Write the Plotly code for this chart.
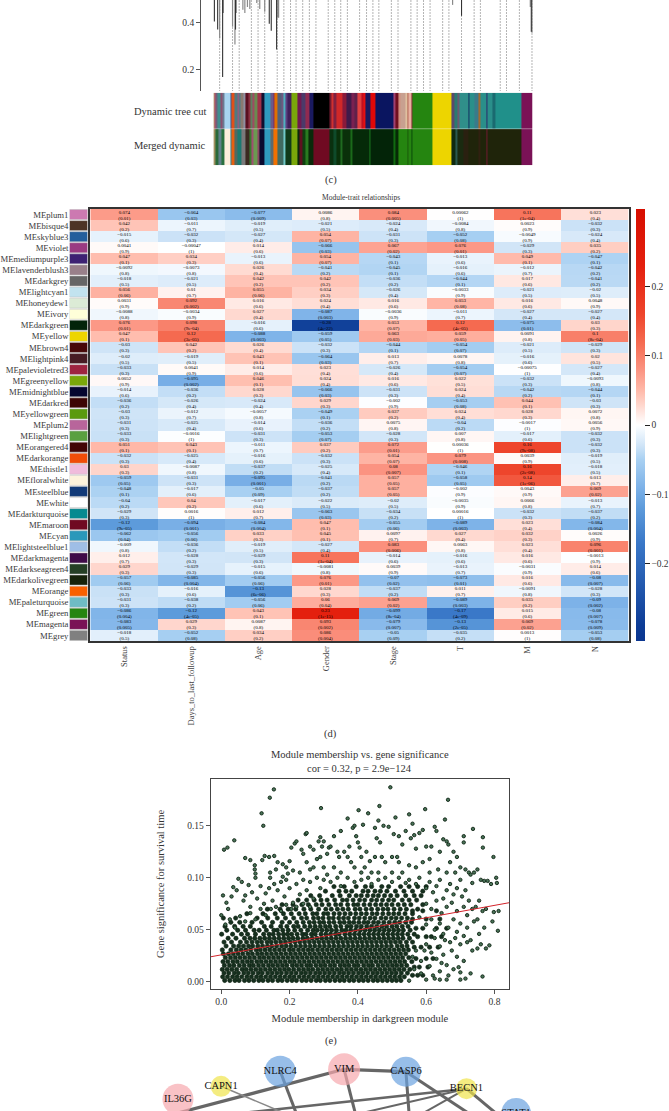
import plotly.graph_objects as go

W, H = 669, 1111
FONT = "Liberation Serif"
INK = "#333333"

# ---------- panel (c): dendrogram and module colour strips ----------
guide_pos = [221.3,234.3,241,253.3,260,266.7,279.3,286,292.7,298.3,305,311.7,318.3,330.7,337.3,343.3,350,362.3,369.3,375.7,
             381.7,394.3,401,414,420.3,426.7,433.3,446,452.3,465,477.7,484,504,510.3,523.3,536]
tip_pos = [216,219.3,221.3,224.3,224.7,234.3,236.7,237.3,237.7,244.7,246.7,249.3,251.7,258.7,261.7,266.7,271.3,273.3,278.7,279.3,280.7,
           456,465,534.3,535.3,536]
tip_low = [0.404,0.37,0.332,0.17,0.44,0.382,0.307,0.37,0.44,0.453,0.44,0.465,0.457,0.482,0.457,0.445,0.395,0.365,0.286,0.42,0.42,
           0.474,0.428,0.465,0.361,0.357]
tip_dark = [1,1,0,1,1,0,0,1,1,0,0,0,0,0,0,0,1,1,1,0,0,0,1,0,1,0]

tree_pos = [215,216,217.3,219.3,222,224,226,232,233.3,236,238.7,240.7,242.7,245.3,247.7,250,252,254.7,256,259.3,263.3,266.7,272.3,275.3,276.7,279.3,284,286,288,290,294,300,304,307.3,311.3,315.3,331.7,334,336,339.3,345.3,348.7,354,356.7,360,364.3,366,368.3,372.7,378,396,398.3,401.7,403.3,408.3,410,411.7,414.3,415.7,435.7,454.3,458.3,461,463.3,471.7,473,478,482,482.3,484,490,491.3,495.7,499,525,536.7]
tree_col = ["#a89a70","#c0506a","#70607a","#3f8f8f","#8a5070","#6a7a90","#a8d4f0","#3a5a90","#e0501a","#507a80","#8a5f80","#40808a","#8a7a70","#8f8fa0","#5a1020","#8a3040","#5f7f60","#a04a60","#6a8a50","#a03048","#101030","#2f9abf","#6a5a8a","#802a60","#e07000","#50607a","#705a80","#50b0c0","#5a4080","#40205a","#7aa70a","#701a50","#4a3a6a","#902a50","#1a1a60","#000000","#701a30","#d03030","#802040","#d02828","#8a1a3a","#401a4a","#7a2050","#60204a","#e04040","#c01020","#e81010","#1a1a60","#e00808","#0a1560","#a04070","#701020","#d09080","#c8a090","#e0c0a0","#b06050","#e8b0a0","#803030","#258510","#edd500","#5a4a6a","#2a7a70","#6a5a70","#308f8a","#103060","#2a8f8a","#3a7a8a","#2a8f8a","#a06a30","#2a8f8a","#2a2a6a","#2a8f8a","#1a6a70","#20908a","#7a1256"]
merged_pos = [215,216.7,220,223.3,226,232,233.3,236,238.7,243.3,247.7,251.3,253.3,255,259.3,261.7,266.7,272.3,275.3,279.3,285.3,287.3,294,300,302,304.7,308,310.7,315.3,331.7,336,339.3,343.3,345.3,353.3,354.7,371.7,373.3,396,398.3,401.7,410,411,414.3,415.7,435.7,454.3,459,461,466.7,471.7,481.7,484.3,490,491.3,525,536.7]
merged_col = ["#a09060","#2a6a3a","#60808a","#2a7040","#fdeedd","#308090","#e86010","#506a60","#1a7a70","#7a7a7a","#3a2a20","#3a7a30","#a05070","#6a9a50","#8a4a60","#0a0a30","#2f9abf","#5a6a70","#f07000","#406a60","#70c8c8","#103a1a","#7aa70a","#0a2a0a","#601020","#0f3f10","#2a7a20","#0a2a0a","#700a22","#0a300f","#0f4a2a","#0a300a","#1f6a20","#0a300a","#1a6a1a","#052a08","#1a7a20","#032408","#106a10","#062a06","#258510","#1a5a0a","#258510","#0a4a0a","#258510","#edd500","#102a10","#2a5a50","#1a2a10","#2a2010","#1f240a","#302010","#1f240a","#701a30","#1f240a","#7a1256"]

# ---------- panel (d): module-trait heatmap ----------
traits = ["Status","Days_to_last_followup","Age","Gender","Stage","T","M","N"]
modules = ["MEplum1","MEbisque4","MEskyblue3","MEviolet","MEmediumpurple3","MElavenderblush3","MEdarkgrey","MElightcyan1","MEhoneydew1","MEivory","MEdarkgreen","MEyellow","MEbrown4","MElightpink4","MEpalevioletred3","MEgreenyellow","MEmidnightblue","MEdarkred","MEyellowgreen","MEplum2","MElightgreen","MEorangered4","MEdarkorange","MEthistle1","MEfloralwhite","MEsteelblue","MEwhite","MEdarkturquoise","MEmaroon","MEcyan","MElightsteelblue1","MEdarkmagenta","MEdarkseagreen4","MEdarkolivegreen","MEorange","MEpaleturquoise","MEgreen","MEmagenta","MEgrey"]
module_col = ["#cc79b1","#4d3425","#245f9c","#9a3b82","#3d2173","#99808a","#666666","#c2e3ef","#dcebd6","#ffffd9","#02240a","#edd500","#470808","#471c24","#9e2340","#7aa70a","#060630","#3d0404","#5a9a0e","#b8659b","#5aa040","#420505","#f04d08","#f0bcdc","#fdf3dc","#123a78","#ffffff","#068a90","#700a22","#2a98ba","#9fbee6","#3f0a48","#253f25","#16220a","#f96000","#6fbcc4","#258510","#7a1256","#808080"]
cor = [
 [0.074,-0.064,-0.077,0.0086,0.084,0.00062,0.11,0.023],
 [0.042,-0.011,-0.019,-0.021,-0.024,-0.0084,0.0023,-0.032],
 [-0.015,-0.032,-0.027,0.054,-0.031,-0.052,-0.0049,-0.024],
 [0.0041,-0.00047,0.014,-0.066,0.067,0.076,-0.029,0.035],
 [0.047,0.034,-0.013,0.054,-0.043,-0.013,0.049,-0.047],
 [-0.0092,-0.0073,0.026,-0.041,-0.045,-0.016,-0.012,-0.042],
 [-0.018,-0.021,0.042,0.042,-0.036,-0.044,0.017,-0.041],
 [0.056,0.01,0.055,0.034,-0.026,-0.0033,-0.021,-0.02],
 [0.0031,0.092,0.016,0.024,0.016,0.053,0.016,0.0048],
 [-0.0088,-0.0034,0.027,-0.087,-0.0036,-0.011,-0.027,-0.027],
 [0.076,0.098,-0.016,-0.28,0.053,0.12,-0.075,0.03],
 [0.047,0.12,-0.088,-0.059,0.063,0.059,0.0091,0.1],
 [-0.03,0.042,0.026,-0.032,-0.044,-0.054,-0.021,-0.029],
 [-0.02,-0.019,0.043,-0.064,0.013,0.0078,-0.016,0.02],
 [-0.033,0.0041,0.014,0.023,-0.026,-0.054,-0.00075,-0.027],
 [0.0052,-0.095,0.046,0.024,0.016,0.022,-0.032,-0.0093],
 [-0.014,-0.036,0.028,-0.066,-0.031,0.024,-0.042,-0.044],
 [-0.036,-0.026,-0.024,0.029,-0.002,-0.053,0.044,-0.03],
 [-0.03,-0.012,-0.0057,-0.049,0.037,0.024,0.028,0.0072],
 [-0.031,-0.025,-0.014,-0.036,0.0075,-0.04,-0.0017,0.0056],
 [-0.033,-0.0016,-0.031,-0.053,-0.028,0.007,-0.017,-0.032],
 [0.051,0.043,-0.011,0.037,0.072,0.00036,0.16,-0.032],
 [-0.032,-0.025,-0.016,-0.032,0.054,0.079,0.0039,-0.019],
 [0.03,-0.0087,-0.037,-0.025,0.08,-0.046,0.16,-0.018],
 [-0.059,-0.031,-0.095,-0.041,0.057,-0.058,0.14,0.013],
 [-0.048,-0.017,-0.05,-0.037,0.057,-0.002,0.0043,0.069],
 [-0.04,0.04,-0.017,-0.022,-0.02,-0.0035,0.0066,-0.013],
 [-0.029,0.0016,0.012,-0.063,-0.034,0.00016,-0.032,-0.037],
 [-0.12,-0.094,-0.084,0.047,-0.055,-0.089,0.023,-0.084],
 [-0.062,-0.056,0.033,0.045,0.0097,0.027,0.032,0.0026],
 [-0.009,-0.036,-0.019,-0.027,0.083,0.0063,0.023,0.096],
 [0.012,-0.028,-0.029,0.11,-0.014,-0.016,0.016,-0.0013],
 [0.029,-0.029,-0.015,-0.0081,0.0039,-0.013,-0.0031,0.014],
 [-0.057,-0.085,-0.056,0.076,-0.07,-0.073,0.016,-0.08],
 [-0.033,-0.016,-0.13,0.028,-0.037,0.011,-0.0091,-0.028],
 [-0.031,-0.038,-0.056,0.06,0.069,-0.089,0.035,-0.09],
 [-0.086,-0.12,0.043,0.23,-0.099,-0.17,0.015,-0.08],
 [-0.083,0.029,0.0087,0.093,-0.079,-0.13,0.069,-0.078],
 [-0.018,-0.052,0.034,0.086,-0.05,-0.035,0.0013,-0.053],
]
pval = [
 ["0.01","0.03","0.009","0.8","0.005","1","1e-04","0.4"],
 ["0.2","0.7","0.5","0.5","0.4","0.8","0.9","0.3"],
 ["0.6","0.3","0.4","0.07","0.3","0.08","0.9","0.4"],
 ["0.9","1","0.6","0.03","0.02","0.01","0.3","0.2"],
 ["0.1","0.3","0.6","0.07","0.1","0.6","0.1","0.1"],
 ["0.8","0.8","0.4","0.2","0.1","0.6","0.7","0.2"],
 ["0.5","0.5","0.2","0.2","0.2","0.1","0.6","0.2"],
 ["0.06","0.7","0.06","0.3","0.4","0.9","0.5","0.5"],
 ["0.9","0.002","0.6","0.4","0.6","0.08","0.6","0.9"],
 ["0.8","0.9","0.4","0.003","0.9","0.7","0.4","0.4"],
 ["0.01","9e-04","0.6","4e-22","0.07","4e-05","0.01","0.3"],
 ["0.1","3e-05","0.003","0.05","0.03","0.05","0.8","8e-04"],
 ["0.3","0.2","0.4","0.3","0.1","0.07","0.5","0.3"],
 ["0.5","0.5","0.1","0.03","0.7","0.8","0.6","0.5"],
 ["0.3","0.9","0.6","0.4","0.4","0.07","1","0.4"],
 ["0.9","0.002","0.1","0.4","0.6","0.5","0.3","0.8"],
 ["0.6","0.2","0.3","0.03","0.3","0.4","0.2","0.1"],
 ["0.2","0.4","0.4","0.3","0.9","0.08","0.1","0.3"],
 ["0.3","0.7","0.8","0.1","0.2","0.4","0.3","0.8"],
 ["0.3","0.4","0.6","0.2","0.8","0.2","1","0.9"],
 ["0.3","1","0.3","0.07","0.3","0.8","0.6","0.3"],
 ["0.1","0.1","0.7","0.2","0.01","1","9e-08","0.3"],
 ["0.3","0.4","0.6","0.3","0.07","0.008","0.9","0.5"],
 ["0.3","0.8","0.2","0.4","0.007","0.1","2e-08","0.5"],
 ["0.05","0.3","0.001","0.2","0.05","0.05","1e-06","0.7"],
 ["0.1","0.6","0.09","0.2","0.05","0.9","0.9","0.02"],
 ["0.2","0.2","0.6","0.5","0.5","0.9","0.8","0.7"],
 ["0.3","1","0.7","0.03","0.2","1","0.3","0.2"],
 ["9e-05","0.001","0.004","0.1","0.06","0.003","0.4","0.004"],
 ["0.04","0.06","0.3","0.1","0.7","0.4","0.3","0.9"],
 ["0.8","0.2","0.5","0.4","0.006","0.8","0.4","0.001"],
 ["0.7","0.3","0.3","1e-04","0.6","0.6","0.6","0.9"],
 ["0.3","0.3","0.6","0.8","0.9","0.7","0.9","0.6"],
 ["0.06","0.004","0.06","0.01","0.02","0.01","0.6","0.007"],
 ["0.3","0.6","6e-06","0.3","0.2","0.7","0.8","0.3"],
 ["0.3","0.2","0.06","0.04","0.02","0.003","0.2","0.002"],
 ["0.004","4e-05","0.1","1e-15","8e-04","4e-09","0.6","0.007"],
 ["0.005","0.3","0.8","0.002","0.007","2e-05","0.02","0.009"],
 ["0.5","0.08","0.2","0.004","0.09","0.2","1","0.08"],
]
cell_text = [[f"{c:g}".replace("-", "\u2212") + f"<br>({p})" for c, p in zip(rc, rp)] for rc, rp in zip(cor, pval)]
Z_MAX = 0.312
heat_stops = [(-0.312,"#0b3690"),(-0.29,"#0d3c96"),(-0.17,"#3a78c8"),(-0.12,"#5d9bdb"),(-0.09,"#7db2e8"),(-0.05,"#a8d0f2"),(-0.03,"#cfe4f7"),(-0.01,"#eef6fd"),(0,"#ffffff"),
              (0.01,"#fff2ef"),(0.03,"#ffd5cb"),(0.05,"#ffb9a9"),(0.08,"#fb9381"),(0.12,"#f56a50"),(0.16,"#ee452c"),(0.23,"#e4200e"),(0.312,"#d70e00")]

# ---------- panel (e): module membership vs gene significance ----------
fit_mm = [-0.031, 0.843]
fit_gs = [0.024, 0.076]
sparse_points = [
 (0.154,.185),(0.142,.177),(0.495,.187),(0.664,.175),(0.118,.162),(0.123,.150),(0.292,.167),(0.463,.169),(0.597,.166),(0.402,.165),(0.008,.127),(0.018,.129),(0.038,.136),(0.737,.147),(0.766,.139),(0.766,.129),(0.797,.12),(0.805,.1),(0.807,.095),(0.812,.068),(0.798,.067),(0.81,.049),(0.794,.058),(0.765,.005),
 (0.07,.119),(0.085,.117),(0.098,.112),(0.098,.108),(0.1,.104),(0.1,.1),(0.12,.117),(0.127,.121),(0.14,.12),(0.143,.105),(0.143,.1),(0.155,.121),(0.165,.115),(0.18,.113),(0.19,.11),(0.195,.104),(0.2,.116),(0.205,.129),(0.215,.133),(0.22,.135),(0.235,.127),(0.24,.123),(0.247,.142),(0.25,.143),(0.26,.13),(0.27,.127),(0.285,.135),(0.29,.139),(0.295,.13),(0.3,.135),(0.31,.123),(0.315,.129),(0.32,.13),(0.33,.14),(0.34,.125),(0.345,.12),(0.35,.145),(0.36,.125),(0.37,.157),(0.375,.13),(0.38,.115),(0.385,.148),(0.39,.15),(0.395,.14),(0.4,.134),(0.405,.129),(0.41,.12),(0.415,.151),(0.42,.11),(0.425,.125),(0.43,.162),(0.435,.116),(0.44,.105),(0.45,.148),(0.455,.138),(0.46,.155),(0.465,.134),(0.47,.12),(0.475,.15),(0.48,.115),(0.49,.149),(0.5,.12),(0.505,.142),(0.51,.158),(0.515,.12),(0.52,.14),(0.53,.132),(0.54,.145),(0.55,.161),(0.555,.138),(0.56,.152),(0.565,.141),(0.57,.128),(0.58,.143),(0.59,.146),(0.6,.13),(0.61,.118),(0.615,.13),(0.625,.149),(0.63,.145),(0.64,.125),(0.65,.137),(0.655,.156),(0.66,.135),(0.665,.132),(0.67,.115),(0.68,.125),(0.69,.12),(0.7,.11),(0.71,.14),(0.71,.134),(0.715,.108),(0.725,.105),(0.73,.103),(0.74,.105),(0.75,.108),(0.76,.098),(0.77,.097),(0.78,.097),(0.79,.094),
 (0.33,.11),(0.35,.105),(0.28,.118),(0.3,.11),(0.25,.115),(0.21,.107),(0.23,.105),(0.26,.108),(0.46,.105),(0.53,.105),(0.55,.112),(0.57,.11),(0.59,.115),(0.61,.105),(0.635,.108),(0.66,.105),(0.685,.105),(0.39,.11),(0.5,.105),(0.52,.115),(0.45,.12),(0.37,.12),(0.41,.105),(0.27,.11),(0.31,.103),(0.29,.12),(0.18,.101),(0.16,.108),
 (0.005,.083),(0.015,.076),(0.02,.07),(0.03,.082),(0.035,.091),(0.045,.088),(0.05,.099),(0.06,.096),(0.065,.078),(0.07,.083),(0.08,.093),(0.085,.072),(0.09,.086),(0.105,.08),(0.115,.092),(0.125,.075),(0.13,.085),(0.14,.09),(0.15,.078),(0.155,.094),(0.165,.088),(0.175,.096),(0.185,.082),(0.19,.098),(0.2,.09),(0.21,.076),(0.22,.094),(0.23,.084),(0.24,.098),(0.25,.088),(0.26,.096),(0.27,.08),(0.28,.1),(0.29,.09),(0.3,.098),(0.32,.096),(0.34,.1),(0.35,.092),(0.37,.1),(0.39,.096),(0.41,.098),(0.43,.1),(0.44,.094),(0.46,.098),(0.48,.1),(0.5,.096),(0.52,.1),(0.54,.095),(0.55,.098),(0.57,.094),(0.58,.1),(0.6,.09),(0.61,.096),(0.62,.086),(0.63,.092),(0.64,.098),(0.65,.08),(0.66,.088),(0.67,.094),(0.68,.084),(0.69,.09),(0.7,.098),(0.705,.082),(0.715,.088),(0.725,.078),(0.735,.095),(0.745,.072),(0.755,.078),(0.765,.068),(0.775,.07),(0.6,.075),(0.615,.07),(0.63,.078),(0.645,.066),(0.66,.072),(0.675,.076),(0.69,.068),(0.71,.072),(0.72,.064),(0.735,.07),(0.75,.06),
 (0.0,.064),(0.012,.055),(0.025,.06),(0.04,.052),(0.055,.063),(0.07,.058),(0.085,.066),(0.1,.06),(0.115,.07),(0.13,.064),(0.145,.07),(0.16,.072),(0.175,.068),(0.19,.074),(0.205,.07),(0.22,.072),(0.24,.075),(0.26,.072),(0.58,.062),(0.6,.055),(0.615,.06),(0.625,.05),(0.64,.056),(0.65,.046),(0.665,.052),(0.68,.06),(0.69,.048),(0.7,.056),(0.71,.044),(0.72,.052),(0.73,.04),(0.74,.058),(0.755,.046),(0.76,.036),(0.77,.052),(0.735,.03),(0.75,.032),(0.775,.032),(0.785,.035),(0.72,.038),(0.7,.036),(0.685,.042),(0.67,.038),(0.655,.04),(0.64,.034),(0.625,.042),
 (0.57,.03),(0.585,.02),(0.6,.036),(0.61,.015),(0.615,.028),(0.63,.022),(0.64,.01),(0.65,.026),(0.66,.016),(0.665,.006),(0.675,.03),(0.68,.012),(0.69,.024),(0.695,.014),(0.7,.009),(0.71,.02),(0.73,.008),(0.66,.002),(0.625,.003),(0.64,.002),(0.6,.002),(0.585,.008),(0.565,.012),(0.55,.001),(0.715,.003),(0.7,.002),(0.645,.018),(0.62,.006),(0.595,.03),(0.56,.024),
]
dense_rows = [
 (.0012,[.01,.025,.04,.052,.068,.081,.095,.11,.122,.137,.15,.166,.178,.193,.207,.22,.236,.249,.263,.278,.29,.305,.318,.333,.347,.36,.375,.388,.403,.416,.43,.445,.458,.472,.486,.5,.513,.526]),
 (.0047,[.004,.018,.033,.046,.06,.075,.088,.103,.116,.13,.144,.158,.172,.186,.2,.213,.228,.242,.256,.27,.284,.298,.312,.326,.34,.354,.368,.382,.396,.41,.424,.438,.452,.466,.48,.494,.508,.522,.536]),
 (.0083,[.008,.022,.038,.05,.066,.079,.093,.108,.12,.136,.149,.163,.176,.191,.205,.219,.234,.247,.261,.276,.289,.303,.317,.331,.346,.359,.373,.387,.402,.415,.429,.444,.457,.471,.485,.499,.512,.527,.545]),
 (.0118,[.003,.017,.031,.045,.061,.073,.087,.101,.115,.129,.143,.157,.171,.185,.198,.212,.227,.241,.255,.268,.283,.297,.311,.325,.339,.352,.367,.381,.395,.409,.423,.437,.451,.465,.479,.493,.507,.521,.535,.552]),
 (.0156,[.009,.024,.037,.053,.067,.082,.094,.109,.123,.138,.151,.165,.179,.192,.208,.221,.235,.25,.262,.277,.291,.304,.319,.332,.348,.361,.374,.389,.401,.417,.431,.443,.459,.473,.487,.501,.514,.528,.543]),
 (.0193,[.005,.019,.034,.047,.062,.076,.089,.104,.117,.131,.145,.159,.173,.187,.201,.214,.229,.243,.257,.271,.285,.299,.313,.327,.341,.355,.369,.383,.397,.411,.425,.439,.453,.467,.481,.495,.509,.523,.537,.558]),
 (.0231,[.012,.027,.041,.055,.069,.083,.097,.112,.125,.139,.153,.167,.181,.195,.209,.223,.237,.251,.265,.279,.293,.307,.321,.335,.349,.363,.377,.391,.405,.419,.433,.447,.461,.475,.489,.503,.517,.531,.549]),
 (.0268,[.006,.021,.035,.049,.063,.078,.091,.106,.119,.133,.147,.161,.175,.189,.203,.217,.231,.245,.259,.273,.287,.301,.315,.329,.343,.357,.371,.385,.399,.413,.427,.441,.455,.469,.483,.497,.511,.525,.54]),
 (.0306,[.003,.028,.044,.058,.072,.086,.102,.114,.128,.142,.156,.17,.184,.199,.211,.226,.24,.254,.267,.282,.296,.31,.324,.338,.351,.366,.38,.394,.408,.422,.436,.45,.464,.478,.492,.506,.52,.534,.548]),
 (.0343,[.014,.036,.051,.065,.08,.092,.107,.121,.135,.148,.162,.177,.19,.204,.218,.232,.246,.26,.274,.288,.302,.316,.33,.344,.358,.372,.386,.4,.414,.428,.442,.456,.47,.484,.498,.515,.529,.544]),
 (.0381,[.008,.03,.056,.074,.09,.105,.118,.134,.146,.16,.174,.188,.202,.216,.23,.244,.258,.272,.286,.3,.314,.328,.342,.356,.37,.384,.398,.412,.426,.44,.454,.468,.482,.496,.51,.524,.542,.56]),
 (.0418,[.02,.043,.068,.084,.098,.113,.127,.141,.155,.169,.183,.197,.21,.224,.239,.252,.266,.28,.294,.308,.322,.336,.35,.364,.378,.392,.406,.42,.434,.448,.462,.476,.49,.504,.518,.532,.551]),
 (.0457,[.001,.033,.059,.077,.1,.124,.14,.152,.168,.182,.194,.206,.222,.238,.248,.264,.275,.292,.306,.32,.334,.345,.362,.376,.39,.404,.418,.432,.446,.46,.474,.488,.502,.516,.53,.546,.565]),
 (.0495,[.016,.048,.071,.096,.111,.132,.154,.164,.18,.196,.215,.233,.253,.269,.281,.295,.309,.323,.337,.353,.365,.379,.393,.407,.421,.435,.449,.463,.477,.491,.505,.519,.533,.553]),
 (.0532,[.011,.039,.064,.085,.126,.146,.174,.192,.212,.225,.244,.26,.275,.29,.305,.318,.335,.35,.368,.38,.396,.41,.426,.44,.455,.47,.484,.5,.514,.53,.547]),
 (.0571,[.028,.054,.09,.118,.15,.178,.2,.221,.24,.258,.272,.288,.3,.316,.33,.347,.36,.375,.388,.403,.418,.43,.446,.46,.476,.492,.508,.522,.54,.557]),
 (.0612,[.006,.042,.105,.136,.164,.188,.212,.235,.25,.27,.284,.298,.315,.328,.344,.358,.372,.39,.404,.42,.436,.45,.468,.482,.498,.512,.528,.545]),
 (.0654,[.075,.122,.158,.182,.205,.228,.246,.268,.28,.3,.312,.33,.346,.362,.378,.394,.41,.425,.442,.456,.473,.49,.505,.52,.538,.56]),
 (.0698,[.135,.172,.196,.218,.242,.262,.285,.306,.322,.34,.356,.372,.392,.406,.424,.44,.458,.474,.488,.506,.524,.542,.575]),
 (.0741,[.178,.21,.236,.255,.278,.295,.315,.335,.35,.37,.388,.4,.418,.435,.452,.468,.484,.5,.518,.536,.555,.59]),
 (.0785,[.225,.25,.272,.292,.31,.332,.355,.368,.386,.405,.42,.44,.455,.472,.49,.505,.53,.55,.572]),
 (.0828,[.262,.288,.325,.348,.375,.395,.41,.428,.445,.46,.478,.496,.515,.54,.565,.585]),
 (.0871,[.305,.345,.365,.382,.415,.43,.45,.466,.485,.51,.535,.56,.59]),
 (.0915,[.33,.36,.395,.422,.44,.47,.49,.525,.55,.575,.6]),
 (.0062,[.56,.575,.59]),
 (.0141,[.565,.58,.605]),
 (.0223,[.57,.6,.62]),
 (.0332,[.565,.585,.61,.635]),
 (.0433,[.575,.6,.615,.645]),
 (.0514,[.57,.59,.63,.66]),
 (.0603,[.56,.6,.64]),
 (.0682,[.56,.59,.63]),
]
mm_sparse = [p[0] for p in sparse_points]
gs_sparse = [p[1] for p in sparse_points]
mm_dense = [x for y, xs in dense_rows for x in xs]
gs_dense = [y for y, xs in dense_rows for x in xs]

# ---------- panel (f): network (top of it) ----------
node_name = ["NLRC4","VIM","CASP6","BECN1","CAPN1","IL36G","STAT1"]
node_x = [282.3,346.7,409,470,222.7,179.3,520]
node_y = [1071.3,1069.3,1071.7,1088.7,1086.3,1099.3,1113]
node_d = [31,32,30,21,21,31,30]
node_c = ["#6ba3e0","#f7a8ae","#6ba3e0","#f0e44c","#f0e44c","#f7a8ae","#6ba3e0"]
edge_x0 = [346.7,346.7,282.3,346.7,409,409,470,470,470,470,222.7]
edge_y0 = [1069.3,1069.3,1071.3,1069.3,1071.7,1071.7,1088.7,1088.7,1088.7,1088.7,1086.3]
edge_x1 = [179.3,409,303,361,413,490,170,330,405,520,315]
edge_y1 = [1113,1071.7,1125,1125,1125,1125,1121,1121,1125,1130,1125]
edge_w = [3.2,3.2,3,3,3,3,2.6,2,2,3,1.5]
edge_c = ["#666666"]*10 + ["#888888"]


def xdom(a, b):
    return [a / W, b / W]


def ydom(top, bottom):
    return [1 - bottom / H, 1 - top / H]


def steps(cols):
    n = len(cols)
    out = []
    for i, c in enumerate(cols):
        out += [[i / n, c], [(i + 1) / n, c]]
    return out


fig = go.Figure()

# heatmap
fig.add_trace(go.Heatmap(
    z=cor, x=traits, y=modules, text=cell_text, texttemplate="%{text}",
    textfont=dict(family=FONT, size=5, color="#000000"),
    zmin=-Z_MAX, zmax=Z_MAX,
    colorscale=[[(v + Z_MAX) / (2 * Z_MAX), c] for v, c in heat_stops],
    colorbar=dict(x=640.7 / W, xanchor="left", xpad=0, ypad=0, y=ydom(209, 641)[0], yanchor="bottom",
                  len=432 / H, lenmode="fraction", thickness=9, outlinewidth=0,
                  tickvals=[-0.2, -0.1, 0, 0.1, 0.2], ticktext=["\u22120.2", "\u22120.1", "0", "0.1", "0.2"],
                  ticks="outside", ticklen=5, tickwidth=1, tickcolor="#222222",
                  tickfont=dict(family=FONT, size=9.5, color=INK)),
    hoverinfo="skip"))

# module colour swatches
fig.add_trace(go.Bar(x=[1] * len(modules), y=modules, orientation="h", width=0.9,
                     marker=dict(color=module_col, line=dict(width=0.5, color="#bbbbbb")),
                     xaxis="x2", yaxis="y2", hoverinfo="skip"))

# dendrogram
gx, gy = [], []
for p in guide_pos:
    gx += [p, p, None]
    gy += [0.4946, 0.111, None]
fig.add_trace(go.Scatter(x=gx, y=gy, mode="lines", line=dict(color="#ababab", width=0.9, dash="2px,1px"),
                         xaxis="x3", yaxis="y3", hoverinfo="skip"))
for dark, color, w in ((0, "#8a8a8a", 1.2), (1, "#333333", 1.1)):
    tx, ty = [], []
    for p, low, d in zip(tip_pos, tip_low, tip_dark):
        if d == dark:
            tx += [p, p, None]
            ty += [0.4946, low, None]
    fig.add_trace(go.Scatter(x=tx, y=ty, mode="lines", line=dict(color=color, width=w),
                             xaxis="x3", yaxis="y3", hoverinfo="skip"))

# colour strips
for pos, cols, y_edges in ((tree_pos, tree_col, [1, 2]), (merged_pos, merged_col, [0, 1])):
    n = len(cols)
    fig.add_trace(go.Heatmap(z=[[i + 0.5 for i in range(n)]], x=pos, y=y_edges, zmin=0, zmax=n,
                             colorscale=steps(cols), showscale=False, xaxis="x4", yaxis="y4", hoverinfo="skip"))

# scatter
fig.add_trace(go.Scatter(x=mm_dense, y=gs_dense, mode="markers", xaxis="x5", yaxis="y5", hoverinfo="skip",
                         marker=dict(size=4.3, color="#16301f", line=dict(width=0.6, color="#0a1f0e"))))
fig.add_trace(go.Scatter(x=mm_sparse, y=gs_sparse, mode="markers", xaxis="x5", yaxis="y5", hoverinfo="skip",
                         marker=dict(size=3.4, color="#4a7358", line=dict(width=0.9, color="#0c2212"))))
fig.add_trace(go.Scatter(x=fit_mm, y=fit_gs, mode="lines", xaxis="x5", yaxis="y5", hoverinfo="skip",
                         line=dict(color="#d2232a", width=1)))

# network
for x0, y0, x1, y1, w, c in zip(edge_x0, edge_y0, edge_x1, edge_y1, edge_w, edge_c):
    fig.add_trace(go.Scatter(x=[x0, x1], y=[y0, y1], mode="lines", line=dict(color=c, width=w),
                             xaxis="x6", yaxis="y6", hoverinfo="skip"))
fig.add_trace(go.Scatter(x=node_x, y=node_y, mode="markers+text", text=node_name, textposition="middle center",
                         textfont=dict(family=FONT, size=10.5, color="#111111"),
                         marker=dict(size=node_d, color=node_c, line=dict(width=0)),
                         xaxis="x6", yaxis="y6", hoverinfo="skip"))

hidden = dict(visible=False)
tickf = dict(family=FONT, size=9.5, color=INK)
fig.update_layout(
    width=W, height=H, margin=dict(l=0, r=0, t=0, b=0), autosize=False,
    paper_bgcolor="white", plot_bgcolor="white", showlegend=False, barmode="overlay",
    font=dict(family=FONT, color=INK),
    xaxis=dict(domain=xdom(91, 633.3), anchor="y", side="bottom", tickangle=-90, ticks="",
               tickfont=dict(family=FONT, size=8.5, color="#444444"), showline=True, mirror=True,
               linecolor="#333333", linewidth=1.5, showgrid=False, zeroline=False, automargin=False),
    yaxis=dict(domain=ydom(209, 641), anchor="x", showticklabels=False, ticks="", autorange=False,
               range=[len(modules) - 0.5, -0.5], type="category", categoryorder="array", categoryarray=modules,
               showline=True, mirror=True, linecolor="#333333", linewidth=1.5, showgrid=False, zeroline=False),
    xaxis2=dict(domain=xdom(70, 88.3), anchor="y2", range=[0, 1], **hidden),
    yaxis2=dict(domain=ydom(209, 641), anchor="x2", autorange=False, range=[len(modules) - 0.5, -0.5],
                type="category", categoryorder="array", categoryarray=modules, ticks="", showline=False,
                showgrid=False, zeroline=False, tickfont=dict(family=FONT, size=8.7, color="#3a3a3a"), automargin=False),
    xaxis3=dict(domain=xdom(202.6, 537), anchor="y3", range=[202.6, 537], **hidden),
    yaxis3=dict(domain=ydom(0, 91), anchor="x3", range=[0.111, 0.4946], tickvals=[0.2, 0.4], ticktext=["0.2", "0.4"],
                ticks="outside", ticklen=4, tickcolor="#555555", showline=True, linecolor="#555555", linewidth=1,
                showgrid=False, zeroline=False, tickfont=tickf, automargin=False),
    xaxis4=dict(domain=xdom(215, 536.7), anchor="y4", range=[215, 536.7], **hidden),
    yaxis4=dict(domain=ydom(92.7, 165.5), anchor="x4", range=[0, 2], **hidden),
    xaxis5=dict(domain=xdom(212.3, 513), anchor="y5", range=[-0.031, 0.843], tickvals=[0, 0.2, 0.4, 0.6, 0.8],
                ticktext=["0.0", "0.2", "0.4", "0.6", "0.8"], ticks="outside", ticklen=4, tickcolor="#555555",
                showline=True, mirror=True, linecolor="#444444", linewidth=1, showgrid=False, zeroline=False,
                tickfont=tickf, automargin=False,
                title=dict(text="Module membership in darkgreen module", standoff=8, font=dict(family=FONT, size=10.5, color=INK))),
    yaxis5=dict(domain=ydom(779, 989), anchor="x5", range=[-0.007, 0.195], tickvals=[0, 0.05, 0.1, 0.15],
                ticktext=["0.00", "0.05", "0.10", "0.15"], ticks="outside", ticklen=4, tickcolor="#555555",
                showline=True, mirror=True, linecolor="#444444", linewidth=1, showgrid=False, zeroline=False,
                tickfont=tickf, automargin=False,
                title=dict(text="Gene significance for survival time", standoff=20, font=dict(family=FONT, size=10.5, color=INK))),
    xaxis6=dict(domain=[0, 1], anchor="y6", range=[0, W], **hidden),
    yaxis6=dict(domain=ydom(1045, 1111), anchor="x6", range=[1111, 1045], **hidden),
)


def note(text, x, y, size, anchor="center"):
    fig.add_annotation(text=text, x=x / W, y=1 - y / H, xref="paper", yref="paper", xanchor=anchor, yanchor="middle",
                       showarrow=False, font=dict(family=FONT, size=size, color=INK))


note("Dynamic tree cut", 210, 111, 10.5, "right")
note("Merged dynamic", 210, 146, 10.5, "right")
note("(c)", 333, 180, 10.5)
note("Module-trait relationships", 364, 198, 7.5)
note("(d)", 333, 734, 10.5)
note("Module membership vs. gene significance", 362.7, 754, 10.5)
note("cor = 0.32, p = 2.9e\u2212124", 362.7, 768, 10.5)
note("(e)", 333, 1041, 10.5)

fig.write_html("out.html", config={"displayModeBar": False},
               post_script="document.body.style.margin='0';document.body.style.overflow='hidden';")
